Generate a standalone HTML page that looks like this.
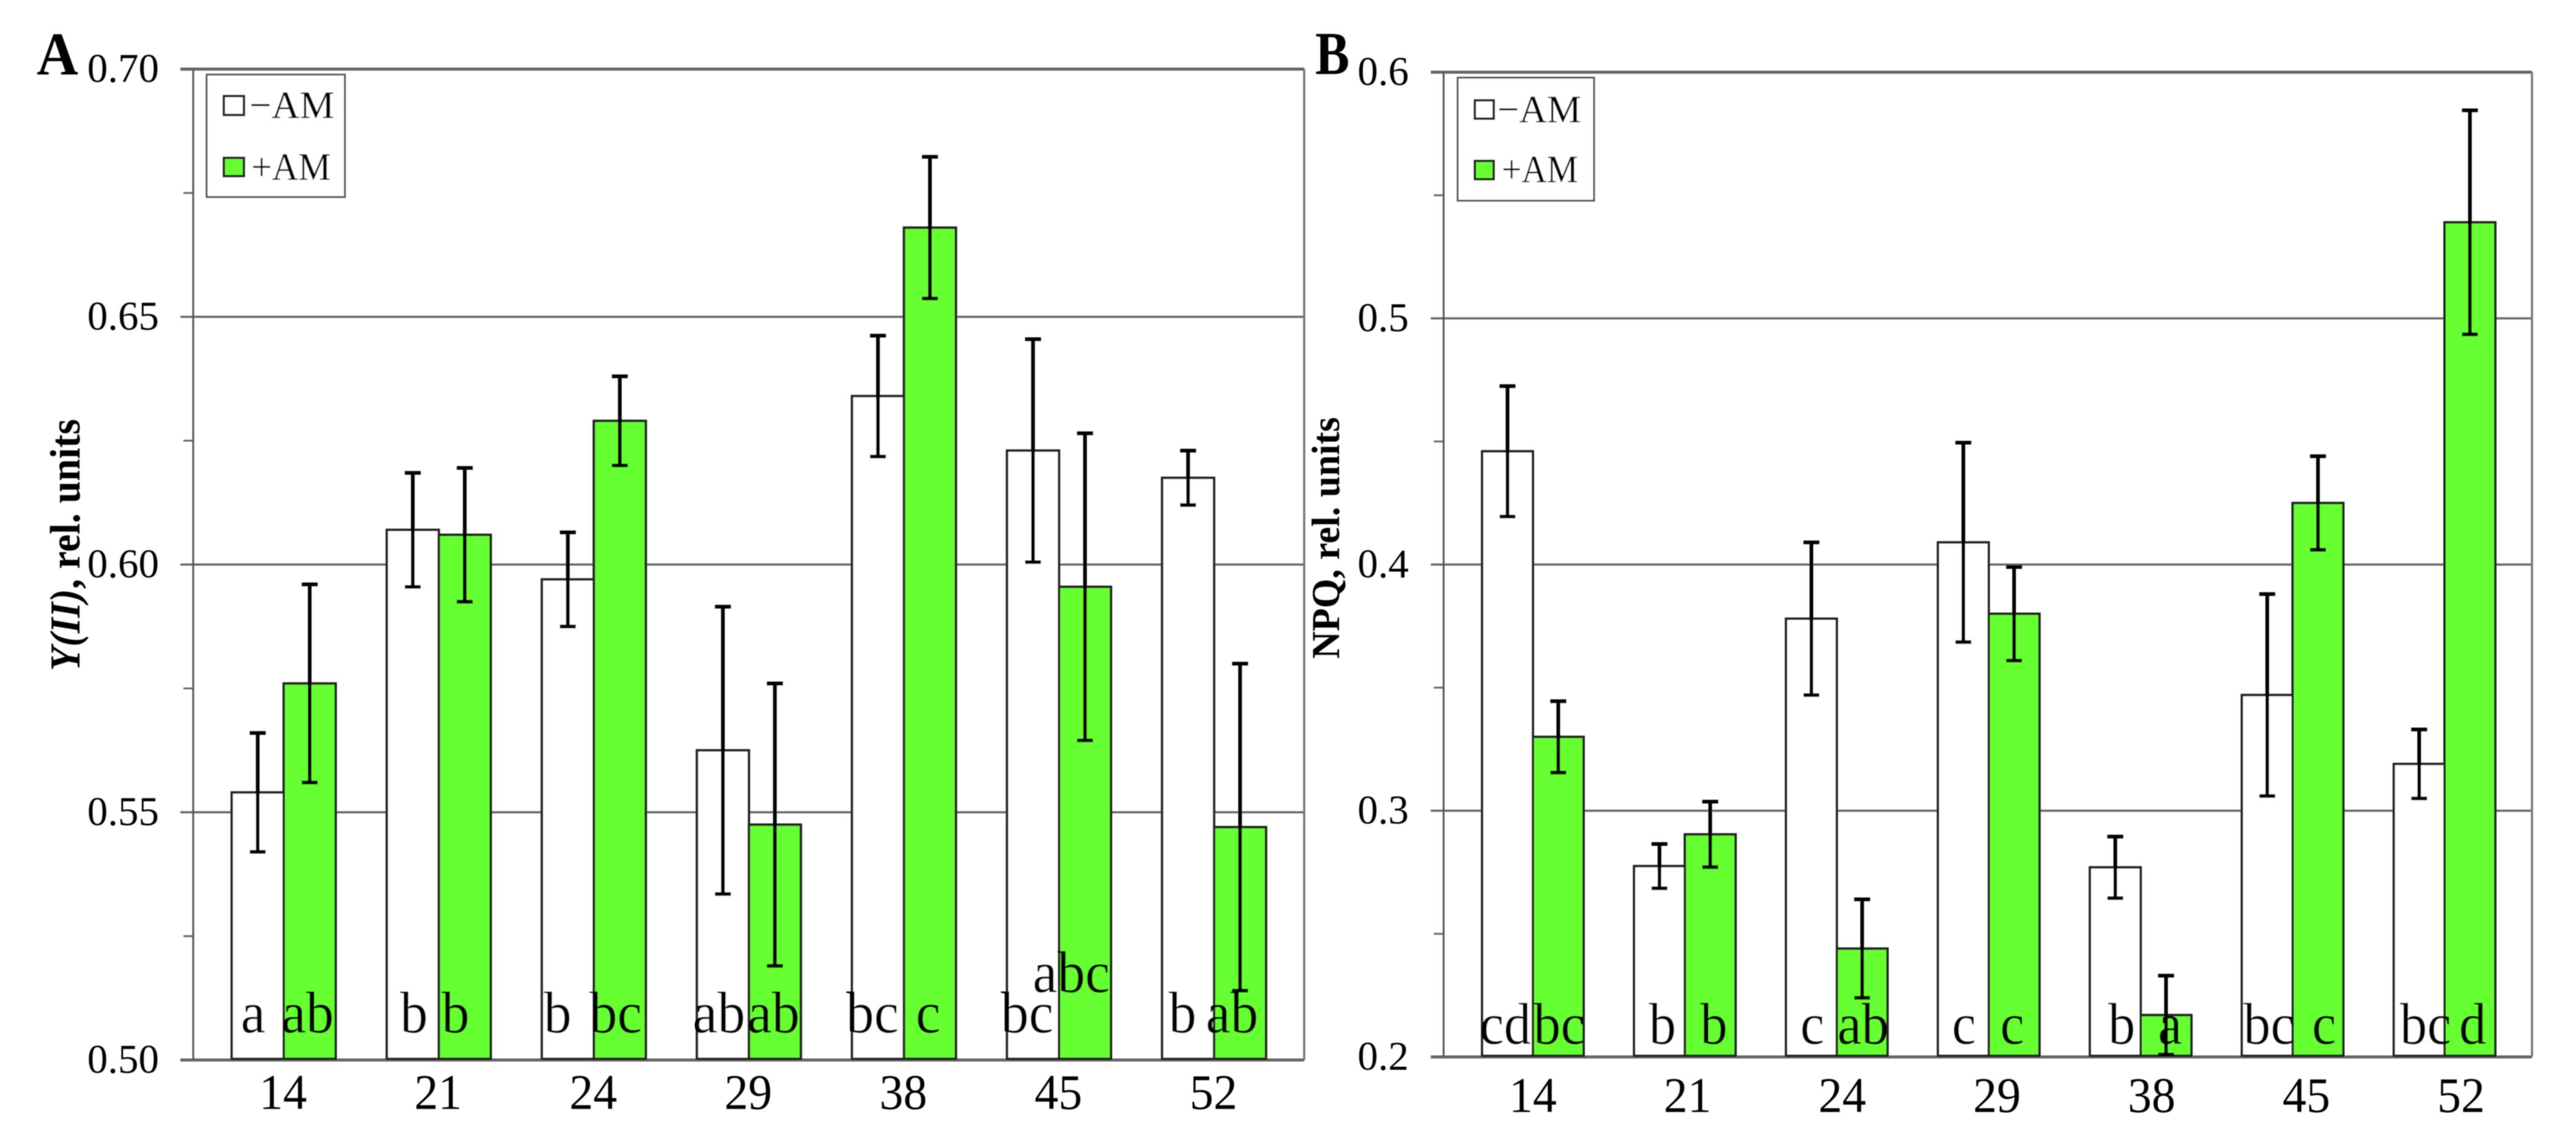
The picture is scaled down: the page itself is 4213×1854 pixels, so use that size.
<!DOCTYPE html>
<html lang="en">
<head>
<meta charset="utf-8">
<title>Y(II) and NPQ with and without AM</title>
<style>
html,body{margin:0;padding:0;background:#fff;width:4213px;height:1854px;overflow:hidden}
svg{display:block}
text{font-family:"Liberation Serif",serif;fill:#000}
.letter{font-size:91px;text-anchor:middle;transform-box:fill-box;transform-origin:50% 100%;transform:scaleY(1.06)}
.letter-b{font-size:89px;text-anchor:middle;transform-box:fill-box;transform-origin:50% 100%;transform:scaleY(1.08)}
.legend-text{font-size:64px}
.panel{font-size:100px;font-weight:bold}
.ytitle{font-size:70px;font-weight:bold}
</style>
</head>
<body>
<svg xmlns="http://www.w3.org/2000/svg" width="4213" height="1854" viewBox="0 0 4213 1854">
<defs>
<filter id="soft" filterUnits="userSpaceOnUse" x="0" y="0" width="4213" height="1854"><feGaussianBlur stdDeviation="0.9"/></filter>
</defs>
<rect x="0" y="0" width="4213" height="1854" fill="#fff"/>
<g filter="url(#soft)">
<g id="panel-a"></g>
<g id="panel-b"></g>

<text class="panel" x="60" y="122" textLength="68" lengthAdjust="spacingAndGlyphs">A</text>
<text class="panel" x="2151" y="121" textLength="56" lengthAdjust="spacingAndGlyphs">B</text>

<text class="ytitle" transform="translate(130 1097) rotate(-90)" textLength="412" lengthAdjust="spacingAndGlyphs"><tspan font-style="italic">Y(II)</tspan>, rel. units</text>
<text class="ytitle" style="font-size:65px" transform="translate(2190 1077) rotate(-90)" textLength="395" lengthAdjust="spacingAndGlyphs">NPQ, rel. units</text>

<g>
<rect x="338" y="122" width="226" height="200" fill="#fff" stroke="#555" stroke-width="3"/>
<rect x="366" y="157" width="33" height="31" fill="#fff" stroke="#222" stroke-width="4"/>
<text class="legend-text" x="408" y="193" textLength="139" lengthAdjust="spacingAndGlyphs">−AM</text>
<rect x="366" y="258" width="33" height="30" fill="#66ff33" stroke="#222" stroke-width="4"/>
<text class="legend-text" x="411" y="294" textLength="130" lengthAdjust="spacingAndGlyphs">+AM</text>
</g>
<g>
<rect x="2384" y="127" width="223" height="201" fill="#fff" stroke="#555" stroke-width="3"/>
<rect x="2412" y="164" width="31" height="30" fill="#fff" stroke="#222" stroke-width="4"/>
<text class="legend-text" x="2449" y="200" textLength="137" lengthAdjust="spacingAndGlyphs">−AM</text>
<rect x="2412" y="263" width="31" height="30" fill="#66ff33" stroke="#222" stroke-width="4"/>
<text class="legend-text" x="2456" y="298" textLength="125" lengthAdjust="spacingAndGlyphs">+AM</text>
</g>

<g>
<text class="letter" x="414" y="1689">a</text>
<text class="letter" x="503" y="1689">ab</text>
<text class="letter" x="677" y="1689">b</text>
<text class="letter" x="745" y="1689">b</text>
<text class="letter" x="912" y="1689">b</text>
<text class="letter" x="1007" y="1689">bc</text>
<text class="letter" x="1176" y="1689">ab</text>
<text class="letter" x="1265" y="1689">ab</text>
<text class="letter" x="1427" y="1689">bc</text>
<text class="letter" x="1518" y="1689">c</text>
<text class="letter" x="1680" y="1689">bc</text>
<text class="letter" x="1752" y="1623">abc</text>
<text class="letter" x="1934" y="1689">b</text>
<text class="letter" x="2015" y="1689">ab</text>
</g>
<g>
<text class="letter-b" x="2462" y="1708">cd</text>
<text class="letter-b" x="2550" y="1708">bc</text>
<text class="letter-b" x="2719" y="1708">b</text>
<text class="letter-b" x="2803" y="1708">b</text>
<text class="letter-b" x="2964" y="1708">c</text>
<text class="letter-b" x="3047" y="1708">ab</text>
<text class="letter-b" x="3212" y="1708">c</text>
<text class="letter-b" x="3291" y="1708">c</text>
<text class="letter-b" x="3470" y="1708">b</text>
<text class="letter-b" x="3549" y="1708">a</text>
<text class="letter-b" x="3711" y="1708">bc</text>
<text class="letter-b" x="3801" y="1708">c</text>
<text class="letter-b" x="3967" y="1708">bc</text>
<text class="letter-b" x="4044" y="1708">d</text>
</g>
</g>
</svg>
<script>
const categories = ['14', '21', '24', '29', '38', '45', '52'];

const yiiTickValues = [0.50, 0.55, 0.60, 0.65, 0.70];
const yiiTickLabels = ['0.50', '0.55', '0.60', '0.65', '0.70'];
const yiiMinusAm = [0.554, 0.607, 0.597, 0.5625, 0.634, 0.623, 0.6175];
const yiiMinusAmErr = [0.012, 0.0115, 0.0095, 0.029, 0.0122, 0.0225, 0.0055];
const yiiPlusAm = [0.576, 0.606, 0.629, 0.5475, 0.668, 0.5955, 0.547];
const yiiPlusAmErr = [0.020, 0.0135, 0.009, 0.0285, 0.0143, 0.031, 0.033];

const npqTickValues = [0.2, 0.3, 0.4, 0.5, 0.6];
const npqTickLabels = ['0.2', '0.3', '0.4', '0.5', '0.6'];
const npqMinusAm = [0.446, 0.2775, 0.378, 0.409, 0.277, 0.347, 0.319];
const npqMinusAmErr = [0.0265, 0.009, 0.031, 0.0405, 0.0125, 0.041, 0.014];
const npqPlusAm = [0.330, 0.2904, 0.244, 0.380, 0.217, 0.425, 0.539];
const npqPlusAmErr = [0.0145, 0.0133, 0.020, 0.019, 0.016, 0.019, 0.0455];

const NS = 'http://www.w3.org/2000/svg';

function make(parent, tag, attrs, content) {
  const node = document.createElementNS(NS, tag);
  for (const k in attrs) node.setAttribute(k, attrs[k]);
  if (content !== undefined) node.textContent = content;
  parent.appendChild(node);
  return node;
}

function drawPanel(root, p, tickValues, tickLabels, minusVals, minusErr, plusVals, plusErr) {
  const lo = tickValues[0];
  const hi = tickValues[tickValues.length - 1];
  const yScale = v => p.bottom - (v - lo) / (hi - lo) * (p.bottom - p.top);
  const xBar = i => p.firstBar + i * p.step;
  const xLabel = i => p.firstLabel + i * p.labelStep;

  tickValues.forEach((v, i) => {
    const y = yScale(v);
    const grid = make(root, 'line', {x1: p.left - 21, x2: p.right, y1: y, y2: y, stroke: '#666', 'stroke-width': (i === 0 || i === tickValues.length - 1) ? 5 : 3.5});
    
    
    const label = make(root, 'text', {x: p.labelEnd, y: y + 21, 'text-anchor': 'end', 'font-size': 67, fill: '#111'}, tickLabels[i]);
    
    
    if (i < tickValues.length - 1) {
      const m = yScale((v + tickValues[i + 1]) / 2);
      const minor = make(root, 'line', {x1: p.left - 16, x2: p.left, y1: m, y2: m, stroke: '#666', 'stroke-width': 3});
      
      
    }
  });

  const leftAxis = make(root, 'line', {x1: p.left, x2: p.left, y1: p.top, y2: p.bottom, stroke: '#555', 'stroke-width': 3});
  
  
  const rightAxis = make(root, 'line', {x1: p.right, x2: p.right, y1: p.top, y2: p.bottom, stroke: '#777', 'stroke-width': 3.5});
  
  

  categories.forEach((cat, i) => {
    const x0 = xBar(i);
    const x1 = x0 + p.barW;
    const base = p.bottom - 2;

    const barMinus = make(root, 'rect', {x: x0, y: yScale(minusVals[i]), width: p.barW, height: base - yScale(minusVals[i]), fill: '#fff', stroke: '#222', 'stroke-width': 4});
    
    
    const barPlus = make(root, 'rect', {x: x1, y: yScale(plusVals[i]), width: p.barW, height: base - yScale(plusVals[i]), fill: '#66ff33', stroke: '#222', 'stroke-width': 4});
    
    

    [[x0, minusVals[i], minusErr[i], 'minus'], [x1, plusVals[i], plusErr[i], 'plus']].forEach(s => {
      const cx = s[0] + p.barW / 2;
      const top = yScale(s[1] + s[2]);
      const bot = yScale(s[1] - s[2]);
      const err = make(root, 'path', {d: 'M' + (cx - 13) + ' ' + top + 'H' + (cx + 13) + 'M' + cx + ' ' + top + 'V' + bot + 'M' + (cx - 13) + ' ' + bot + 'H' + (cx + 13), fill: 'none', stroke: '#000', 'stroke-width': 6});
      
      
    });

    const tick = make(root, 'text', {x: xLabel(i), y: p.xLabelY, 'text-anchor': 'middle', 'font-size': 82, fill: '#111', textLength: 78, lengthAdjust: 'spacingAndGlyphs'}, cat);
    
    
  });
}

drawPanel(document.getElementById('panel-a'),
  {id: 'panel-a', left: 316, right: 2133, top: 113, bottom: 1733, firstBar: 379, step: 253.6, barW: 85, firstLabel: 463, labelStep: 253.6, labelEnd: 260, xLabelY: 1813},
  yiiTickValues, yiiTickLabels, yiiMinusAm, yiiMinusAmErr, yiiPlusAm, yiiPlusAmErr);

drawPanel(document.getElementById('panel-b'),
  {id: 'panel-b', left: 2361, right: 4141, top: 118, bottom: 1728, firstBar: 2424, step: 248.5, barW: 83, firstLabel: 2507, labelStep: 253, labelEnd: 2304, xLabelY: 1818},
  npqTickValues, npqTickLabels, npqMinusAm, npqMinusAmErr, npqPlusAm, npqPlusAmErr);
</script>
</body>
</html>
